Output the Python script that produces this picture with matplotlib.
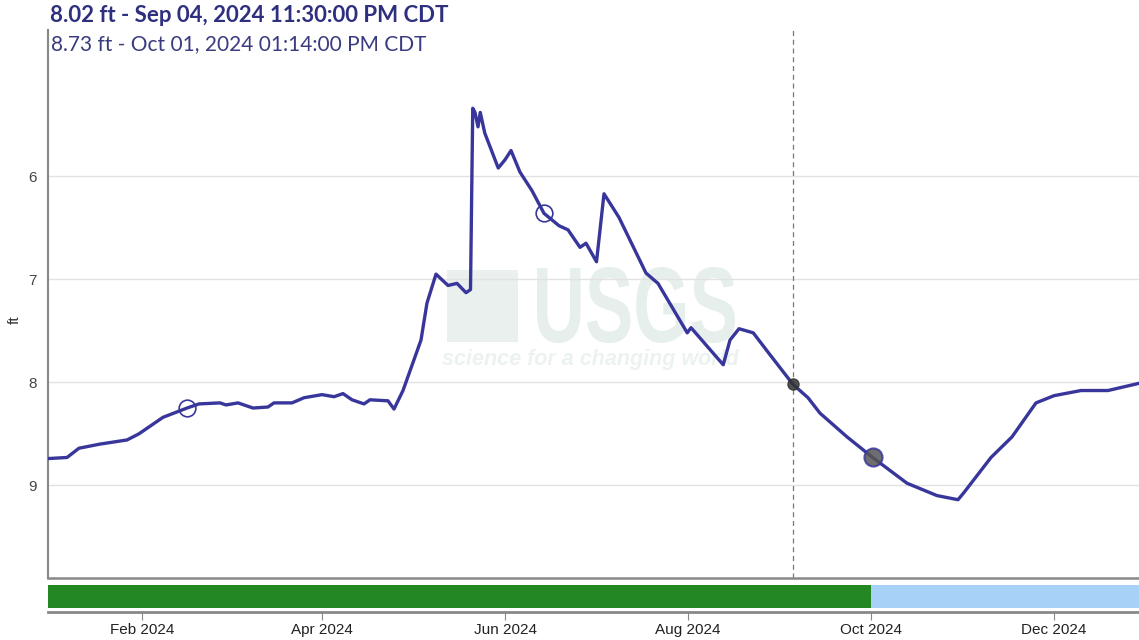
import pandas as pd
import matplotlib
matplotlib.use("Agg")
import matplotlib.pyplot as plt
import matplotlib.dates as mdates
from matplotlib.textpath import TextPath
from matplotlib.patches import PathPatch
from matplotlib.font_manager import FontProperties
from matplotlib.transforms import Affine2D

# Gage height series (ft)
datas = [
    "2024-01-01 00:00", "2024-01-07", "2024-01-11", "2024-01-18", "2024-01-27",
    "2024-01-31", "2024-02-08", "2024-02-16", "2024-02-20", "2024-02-27",
    "2024-02-29", "2024-03-04", "2024-03-09", "2024-03-14", "2024-03-16",
    "2024-03-22", "2024-03-26", "2024-04-01", "2024-04-05", "2024-04-08",
    "2024-04-11", "2024-04-15", "2024-04-17", "2024-04-23", "2024-04-25",
    "2024-04-28", "2024-05-04", "2024-05-06", "2024-05-09", "2024-05-13",
    "2024-05-16", "2024-05-19", "2024-05-20 12:00", "2024-05-21 06:00",
    "2024-05-22 00:00", "2024-05-23 00:00", "2024-05-23 18:00", "2024-05-25 06:00",
    "2024-05-29 18:00", "2024-06-01", "2024-06-03", "2024-06-06", "2024-06-10",
    "2024-06-14", "2024-06-19", "2024-06-22", "2024-06-26", "2024-06-28",
    "2024-07-01 12:00", "2024-07-04", "2024-07-09", "2024-07-18", "2024-07-22",
    "2024-07-31 18:00", "2024-08-02", "2024-08-12 18:00", "2024-08-15",
    "2024-08-18", "2024-08-22 18:00", "2024-08-28", "2024-09-04 23:30",
    "2024-09-10", "2024-09-14", "2024-09-23", "2024-10-01 13:14", "2024-10-13",
    "2024-10-23", "2024-10-30", "2024-11-01", "2024-11-10", "2024-11-17",
    "2024-11-25", "2024-12-01", "2024-12-10", "2024-12-19", "2024-12-29 08:00",
]
nivel = [
    8.74, 8.73, 8.64, 8.60, 8.56,
    8.50, 8.34, 8.25, 8.21, 8.20,
    8.22, 8.20, 8.25, 8.24, 8.20,
    8.20, 8.15, 8.12, 8.14, 8.11,
    8.17, 8.21, 8.17, 8.18, 8.26,
    8.08, 7.59, 7.23, 6.95, 7.06,
    7.04, 7.13, 7.10, 5.34,
    5.38, 5.52, 5.38, 5.58,
    5.92, 5.84, 5.75, 5.96, 6.14,
    6.36, 6.48, 6.52, 6.69, 6.65,
    6.83, 6.17, 6.40, 6.94, 7.04,
    7.52, 7.47, 7.83, 7.59,
    7.48, 7.52, 7.72, 8.02,
    8.15, 8.30, 8.53, 8.73, 8.98,
    9.10, 9.14, 9.07, 8.73, 8.53,
    8.20, 8.13, 8.08, 8.08, 8.01,
]

# field measurements (open circles)
medicoes_datas = ["2024-02-16", "2024-06-14"]
medicoes_nivel = [8.25, 6.36]

# highlighted readings
sel_data = "2024-09-04 23:30"
sel_nivel = 8.02
ref_data = "2024-10-01 13:14"
ref_nivel = 8.73

# approval status bar
aprovado_fim = "2024-10-01"
inicio = "2023-12-31 16:00"
fim = "2024-12-29 08:00"

titulo1 = "8.02 ft - Sep 04, 2024 11:30:00 PM CDT"
titulo2 = "8.73 ft - Oct 01, 2024 01:14:00 PM CDT"

cor_linha = "#38369a"
x = pd.to_datetime(datas, format="mixed")
x0, x1 = pd.Timestamp(inicio), pd.Timestamp(fim)

W, H = 1139, 640
fig = plt.figure(figsize=(W / 100, H / 100), dpi=100)

# Grafico principal
ax = fig.add_axes([48 / W, 1 - 578 / H, 1 - 48 / W, 548 / H])

# marca d'agua USGS (letras comprimidas na horizontal)
tp = TextPath((0, 0), "USGS", size=1, prop=FontProperties(family="Liberation Sans", weight="bold"))
bb = tp.get_extents()
tr = (Affine2D().translate(-bb.x0, -bb.y0)
      .scale(198 / W / bb.width, 76 / H / bb.height)
      .translate(537 / W, 1 - 343 / H))
ax.add_patch(PathPatch(tp, transform=tr + fig.transFigure, color="#e6efeb", lw=0, zorder=0))
ax.add_patch(plt.Rectangle((0.366, 0.431), 0.065, 0.131, transform=ax.transAxes,
                           color="#e9f0ed", zorder=0, lw=0))
ax.text(0.497, 0.398, "science for a changing world", transform=ax.transAxes, fontsize=15.5,
        style="italic", fontweight="bold", color="#ebf2ef", ha="center", va="center",
        family="Liberation Sans", zorder=0)

ax.plot(x, nivel, color=cor_linha, lw=2.4, zorder=3)
ax.plot(pd.to_datetime(medicoes_datas), medicoes_nivel, "o", ms=12, mfc="none",
        mec=cor_linha, mew=1.2, zorder=4)
ax.plot(pd.Timestamp(ref_data), ref_nivel, "o", ms=13, mfc="#555555", mec=cor_linha,
        mew=1.5, alpha=0.85, zorder=5)
ax.plot(pd.Timestamp(sel_data), sel_nivel, "o", ms=8, color="#333333", alpha=0.85, zorder=5)
ax.axvline(pd.Timestamp(sel_data), color="#777777", ls=(0, (4, 3)), lw=0.9, zorder=2)

ax.set_xlim(x0, x1)
ax.set_ylim(9.90, 4.58)
ax.set_yticks([6, 7, 8, 9])
ax.grid(axis="y", color="#e2e2e2", lw=1)
ax.set_axisbelow(True)
ax.tick_params(axis="y", length=0, pad=8, labelsize=11, labelcolor="#444444")
for t in ax.get_yticklabels():
    t.set_family("Liberation Sans")
ax.set_xticks([])
for s in ["top", "right"]:
    ax.spines[s].set_visible(False)
ax.spines["left"].set_color("#888888")
ax.spines["left"].set_linewidth(1.5)
ax.spines["bottom"].set_color("#888888")
ax.spines["bottom"].set_linewidth(1.8)

fig.text(15 / W, 1 - 320 / H, "ft", rotation=90, fontsize=11, color="#333333",
         family="Liberation Sans", ha="center", va="center")

# Barra de status (aprovado / provisorio)
bx = fig.add_axes([48 / W, 1 - 612 / H, 1 - 48 / W, 27 / H])
bx.set_xlim(x0, x1)
bx.set_ylim(0, 1)
bx.axvspan(x0, pd.Timestamp(aprovado_fim), ymin=0.15, ymax=1, color="#238823", lw=0)
bx.axvspan(pd.Timestamp(aprovado_fim), x1, ymin=0.15, ymax=1, color="#a8d1f8", lw=0)
bx.set_yticks([])
bx.xaxis.set_major_locator(mdates.MonthLocator(bymonth=[2, 4, 6, 8, 10, 12]))
bx.xaxis.set_major_formatter(mdates.DateFormatter("%b %Y"))
bx.tick_params(axis="x", length=6, color="#888888", labelsize=11, labelcolor="#222222", pad=2)
for t in bx.get_xticklabels():
    t.set_family("Liberation Sans")
for s in ["top", "right", "left"]:
    bx.spines[s].set_visible(False)
bx.spines["bottom"].set_color("#888888")
bx.spines["bottom"].set_linewidth(2)

# Textos do topo
fig.text(50 / W, 1 - 15 / H, titulo1, fontsize=16, fontweight="bold",
         color="#2f2f7f", family="Lato", va="center", ha="left")
fig.text(51 / W, 1 - 44 / H, titulo2, fontsize=15, color="#3b3b80",
         family="Lato", va="center", ha="left")

plt.savefig("out.png", dpi=100)
